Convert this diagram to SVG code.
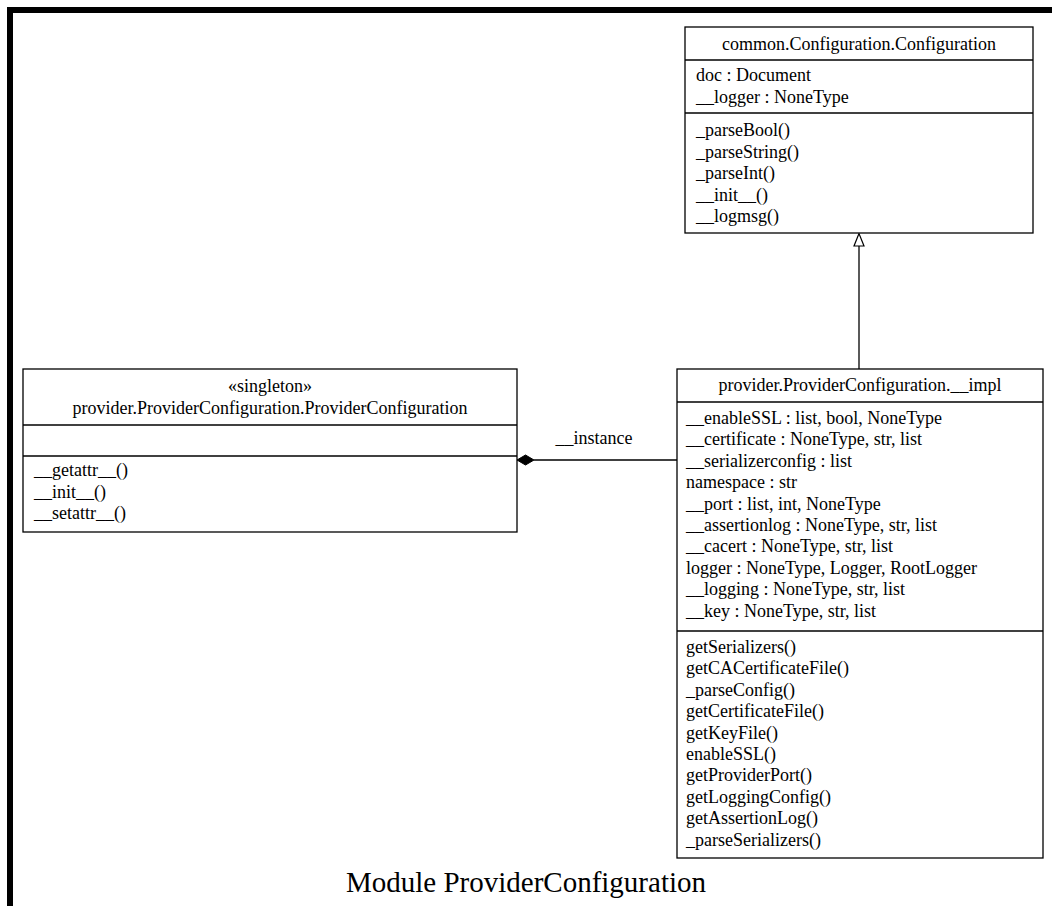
<svg xmlns="http://www.w3.org/2000/svg" width="1052" height="906" viewBox="0 0 1052 906">
  <style>
    text { font-family: "Liberation Serif", "Times New Roman", serif; font-size: 18px; fill: #000; }
    .c { text-anchor: middle; }
    .box { fill: #fff; stroke: #000; stroke-width: 1.3; }
    .sep { stroke: #000; stroke-width: 1.3; }
    .edge { fill: none; stroke: #000; stroke-width: 1.3; }
    .title { font-size: 29px; }
  </style>
  <rect x="0" y="0" width="1052" height="906" fill="#fff"/>
  <!-- page frame -->
  <path d="M10,906 L10,10 L1052,10" fill="none" stroke="#000" stroke-width="6"/>

  <g id="connectors">
    <!-- generalization from impl up to Configuration -->
    <path class="edge" d="M859,369 L859,246"/>
    <path d="M859,233.5 L854,246 L864,246 Z" fill="#fff" stroke="#000" stroke-width="1.2"/>
    <!-- composition: filled diamond on the owner side -->
    <path class="edge" d="M534,460 L677,460"/>
    <path d="M517,460 L525.5,455 L534,460 L525.5,465 Z" fill="#000" stroke="#000" stroke-width="1"/>
    <text class="c" x="594" y="444">__instance</text>
  </g>

  <g id="Configuration">
    <rect class="box" x="685" y="27" width="348" height="206"/>
    <line class="sep" x1="685" y1="60" x2="1033" y2="60"/>
    <line class="sep" x1="685" y1="113" x2="1033" y2="113"/>
    <text class="c" x="859" y="50">common.Configuration.Configuration</text>
    <text x="696" y="81">doc : Document</text>
    <text x="696" y="102.5">__logger : NoneType</text>
    <text x="696" y="136">_parseBool()</text>
    <text x="696" y="157.5">_parseString()</text>
    <text x="696" y="179">_parseInt()</text>
    <text x="696" y="200.5">__init__()</text>
    <text x="696" y="222">__logmsg()</text>
  </g>

  <g id="ProviderConfiguration">
    <rect class="box" x="23" y="369" width="494" height="163"/>
    <line class="sep" x1="23" y1="425" x2="517" y2="425"/>
    <line class="sep" x1="23" y1="456" x2="517" y2="456"/>
    <text class="c" x="270" y="392">«singleton»</text>
    <text class="c" x="270" y="414">provider.ProviderConfiguration.ProviderConfiguration</text>
    <text x="34" y="476">__getattr__()</text>
    <text x="34" y="497.5">__init__()</text>
    <text x="34" y="519">__setattr__()</text>
  </g>

  <g id="impl">
    <rect class="box" x="677" y="369" width="366" height="489"/>
    <line class="sep" x1="677" y1="402" x2="1043" y2="402"/>
    <line class="sep" x1="677" y1="631" x2="1043" y2="631"/>
    <text class="c" x="860" y="391">provider.ProviderConfiguration.__impl</text>
    <text x="686" y="424">__enableSSL : list, bool, NoneType</text>
    <text x="686" y="445.4">__certificate : NoneType, str, list</text>
    <text x="686" y="466.8">__serializerconfig : list</text>
    <text x="686" y="488.2">namespace : str</text>
    <text x="686" y="509.6">__port : list, int, NoneType</text>
    <text x="686" y="531">__assertionlog : NoneType, str, list</text>
    <text x="686" y="552.4">__cacert : NoneType, str, list</text>
    <text x="686" y="573.8">logger : NoneType, Logger, RootLogger</text>
    <text x="686" y="595.2">__logging : NoneType, str, list</text>
    <text x="686" y="616.6">__key : NoneType, str, list</text>
    <text x="686" y="653">getSerializers()</text>
    <text x="686" y="674.4">getCACertificateFile()</text>
    <text x="686" y="695.8">_parseConfig()</text>
    <text x="686" y="717.2">getCertificateFile()</text>
    <text x="686" y="738.6">getKeyFile()</text>
    <text x="686" y="760">enableSSL()</text>
    <text x="686" y="781.4">getProviderPort()</text>
    <text x="686" y="802.8">getLoggingConfig()</text>
    <text x="686" y="824.2">getAssertionLog()</text>
    <text x="686" y="845.6">_parseSerializers()</text>
  </g>

  <text class="c title" x="526" y="892">Module ProviderConfiguration</text>
</svg>
